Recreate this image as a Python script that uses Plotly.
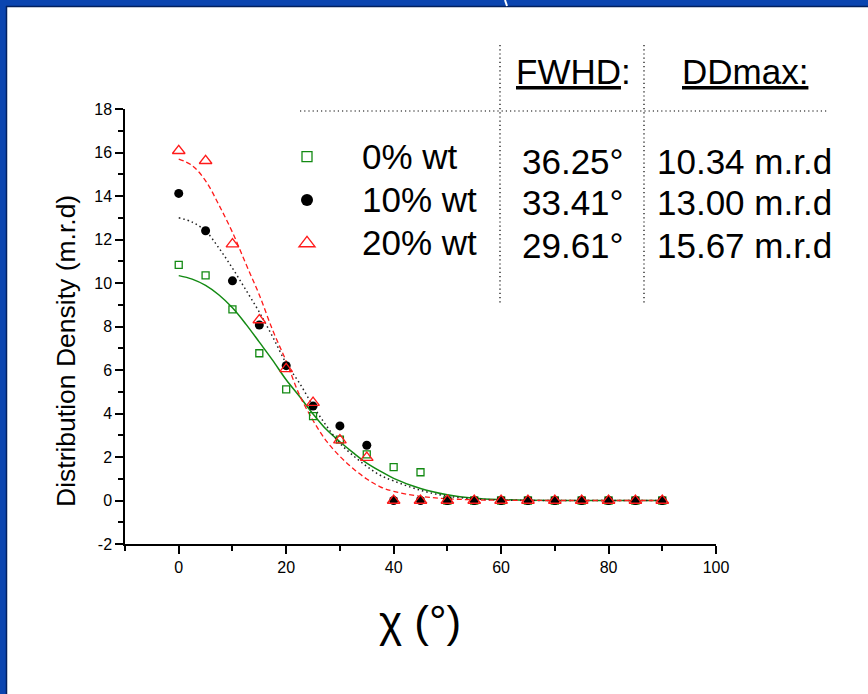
import plotly.graph_objects as go

# ---------------- data ----------------
chi = [0, 5, 10, 15, 20, 25, 30, 35, 40, 45, 50, 55, 60, 65, 70, 75, 80, 85, 90]
dd_0 = [10.83, 10.35, 8.79, 6.77, 5.11, 3.88, 2.80, 2.12, 1.53, 1.30, 0, 0, 0, 0, 0, 0, 0, 0, 0]
dd_10 = [14.12, 12.40, 10.10, 8.07, 6.20, 4.34, 3.43, 2.54, 0, 0, 0, 0, 0, 0, 0, 0, 0, 0, 0]
dd_20 = [16.08, 15.62, 11.79, 8.30, 6.05, 4.50, 2.78, 1.97, 0, 0, 0, 0, 0, 0, 0, 0, 0, 0, 0]

fit_x = [0, 2.5, 5, 7.5, 10, 12.5, 15, 17.5, 20, 22.5, 25, 27.5, 30, 32.5, 35, 37.5, 40, 45, 50, 55, 60, 70, 80, 90]
fit_0 = [10.34, 10.18, 9.89, 9.45, 8.86, 8.11, 7.28, 6.44, 5.55, 4.78, 3.98, 3.26, 2.70, 2.19, 1.72, 1.35, 1.02, 0.55, 0.26, 0.10, 0.04, 0.0, 0.0, 0.0]
fit_10 = [13.00, 12.80, 12.39, 11.60, 10.68, 9.68, 8.66, 7.52, 6.31, 5.39, 4.35, 3.43, 2.63, 2.06, 1.57, 1.16, 0.90, 0.47, 0.20, 0.08, 0.02, 0.0, 0.0, 0.0]
fit_20 = [15.70, 15.40, 14.70, 13.58, 12.33, 10.88, 9.45, 7.82, 6.40, 4.84, 3.68, 2.73, 2.03, 1.46, 0.99, 0.63, 0.42, 0.19, 0.08, 0.03, 0.01, 0.0, 0.0, 0.0]

series_names = ["0% wt", "10% wt", "20% wt"]
fwhd_labels = ["36.25°", "33.41°", "29.61°"]
ddmax_labels = ["10.34 m.r.d", "13.00 m.r.d", "15.67 m.r.d"]

x_ticks = [0, 20, 40, 60, 80, 100]
x_ticktext = ["0", "20", "40", "60", "80", "100"]
y_ticks = [-2, 0, 2, 4, 6, 8, 10, 12, 14, 16, 18]
y_ticktext = ["-2", "0", "2", "4", "6", "8", "10", "12", "14", "16", "18"]

# ---------------- layout helpers (pixel -> paper) ----------------
W, H = 868, 694
L, R, T, B = 125, 716, 109, 544


def xp(px):
    return (px - L) / (R - L)


def yp(py):
    return (B - py) / (B - T)


FONT = "Arial, Liberation Sans, sans-serif"
GREEN = "#138a13"
RED = "#ff1a1a"

fig = go.Figure()

# fitted curves
fig.add_trace(go.Scatter(x=fit_x, y=fit_0, mode="lines", line=dict(color=GREEN, width=1.5, shape="spline"),
                         showlegend=False, hoverinfo="skip"))
fig.add_trace(go.Scatter(x=fit_x, y=fit_10, mode="lines",
                         line=dict(color="#222222", width=1.5, dash="1.5px,3px", shape="spline"),
                         showlegend=False, hoverinfo="skip"))
fig.add_trace(go.Scatter(x=fit_x, y=fit_20, mode="lines",
                         line=dict(color=RED, width=1.3, dash="5px,3px", shape="spline"),
                         showlegend=False, hoverinfo="skip"))

# data points
fig.add_trace(go.Scatter(x=chi, y=dd_0, mode="markers", showlegend=False,
                         marker=dict(symbol="square-open", size=7, color=GREEN, line=dict(width=1.3))))
fig.add_trace(go.Scatter(x=chi, y=dd_10, mode="markers", showlegend=False,
                         marker=dict(symbol="circle", size=9, color="black")))
fig.add_trace(go.Scatter(x=chi, y=dd_20, mode="markers", showlegend=False,
                         marker=dict(symbol="triangle-up-open", size=11, color=RED, line=dict(width=1.3))))

# legend entries (larger symbols, as in the reference)
legend_syms = [dict(symbol="square-open", size=10, color=GREEN, line=dict(width=1.3)),
               dict(symbol="circle", size=12, color="black"),
               dict(symbol="triangle-up-open", size=14, color=RED, line=dict(width=1.3))]
for name, mk in zip(series_names, legend_syms):
    fig.add_trace(go.Scatter(x=[None], y=[None], mode="markers",
                             name='<span style="font-size:35px">' + name + '</span>', marker=mk))

shapes = []
# blue frame (left and top)
shapes.append(dict(type="rect", xref="paper", yref="paper", x0=xp(0), x1=xp(6), y0=yp(H), y1=yp(0),
                   fillcolor="#0b45b0", line=dict(width=0), layer="above"))
shapes.append(dict(type="rect", xref="paper", yref="paper", x0=xp(0), x1=xp(W), y0=yp(6), y1=yp(0),
                   fillcolor="#0b45b0", line=dict(width=0), layer="above"))
shapes.append(dict(type="line", xref="paper", yref="paper", x0=xp(6.5), x1=xp(6.5), y0=yp(H), y1=yp(6),
                   line=dict(color="#02205e", width=1.5), layer="above"))
shapes.append(dict(type="line", xref="paper", yref="paper", x0=xp(6), x1=xp(W), y0=yp(6.5), y1=yp(6.5),
                   line=dict(color="#02205e", width=1.5), layer="above"))
shapes.append(dict(type="line", xref="paper", yref="paper", x0=xp(505), x1=xp(507), y0=yp(0), y1=yp(6),
                   line=dict(color="white", width=2), layer="above"))
# dotted table lines
dot = dict(color="black", width=1.2, dash="1.2px,3px")
shapes.append(dict(type="line", xref="paper", yref="paper", x0=xp(500), x1=xp(500), y0=yp(45), y1=yp(303), line=dot))
shapes.append(dict(type="line", xref="paper", yref="paper", x0=xp(644), x1=xp(644), y0=yp(45), y1=yp(303), line=dot))
shapes.append(dict(type="line", xref="paper", yref="paper", x0=xp(300), x1=xp(828), y0=yp(111), y1=yp(111), line=dot))

annotations = []


def txt(text, px, py, size, xanchor="left"):
    annotations.append(dict(text=text, x=xp(px), y=yp(py), xref="paper", yref="paper",
                            xanchor=xanchor, yanchor="middle", showarrow=False,
                            font=dict(family=FONT, size=size, color="black")))


txt("<u>FWHD</u>:", 514, 72, 35)
txt("<u>DDmax:</u>", 680, 72, 35)
rows = [161, 202, 245]
for i in range(3):
    txt(fwhd_labels[i], 520, rows[i], 35)
    txt(ddmax_labels[i], 655, rows[i], 35)

# axis titles
annotations.append(dict(text="Distribution Density (m.r.d)", x=xp(66), y=yp(351), xref="paper", yref="paper",
                        textangle=-90, showarrow=False, xanchor="center", yanchor="middle",
                        font=dict(family=FONT, size=26.5, color="black")))
txt("χ (°)", 420, 621, 44, xanchor="center")

axis_common = dict(showline=True, linecolor="black", linewidth=1.5, ticks="outside", ticklen=8,
                   tickwidth=1.5, tickcolor="black", showgrid=False, zeroline=False,
                   tickfont=dict(family=FONT, size=16, color="black"), mirror=False)

fig.update_layout(
    width=W, height=H,
    margin=dict(l=L, r=W - R, t=T, b=H - B),
    paper_bgcolor="white", plot_bgcolor="white",
    xaxis=dict(range=[-10, 100], tickvals=x_ticks, ticktext=x_ticktext,
               minor=dict(ticks="outside", ticklen=5, tickwidth=1.5, tickcolor="black", dtick=10, tick0=0),
               **axis_common),
    yaxis=dict(range=[-2, 18], tickvals=y_ticks, ticktext=y_ticktext,
               minor=dict(ticks="outside", ticklen=5, tickwidth=1.5, tickcolor="black", dtick=1, tick0=0),
               **axis_common),
    legend=dict(x=xp(252), y=yp(130), xanchor="left", yanchor="top", bgcolor="rgba(0,0,0,0)",
                font=dict(family=FONT, size=31, color="black"), itemwidth=100, tracegroupgap=0),
    shapes=shapes,
    annotations=annotations,
    showlegend=True,
)

fig.write_html("out.html", config={"displayModeBar": False},
               post_script="document.body.style.margin='0';document.body.style.overflow='hidden';")
